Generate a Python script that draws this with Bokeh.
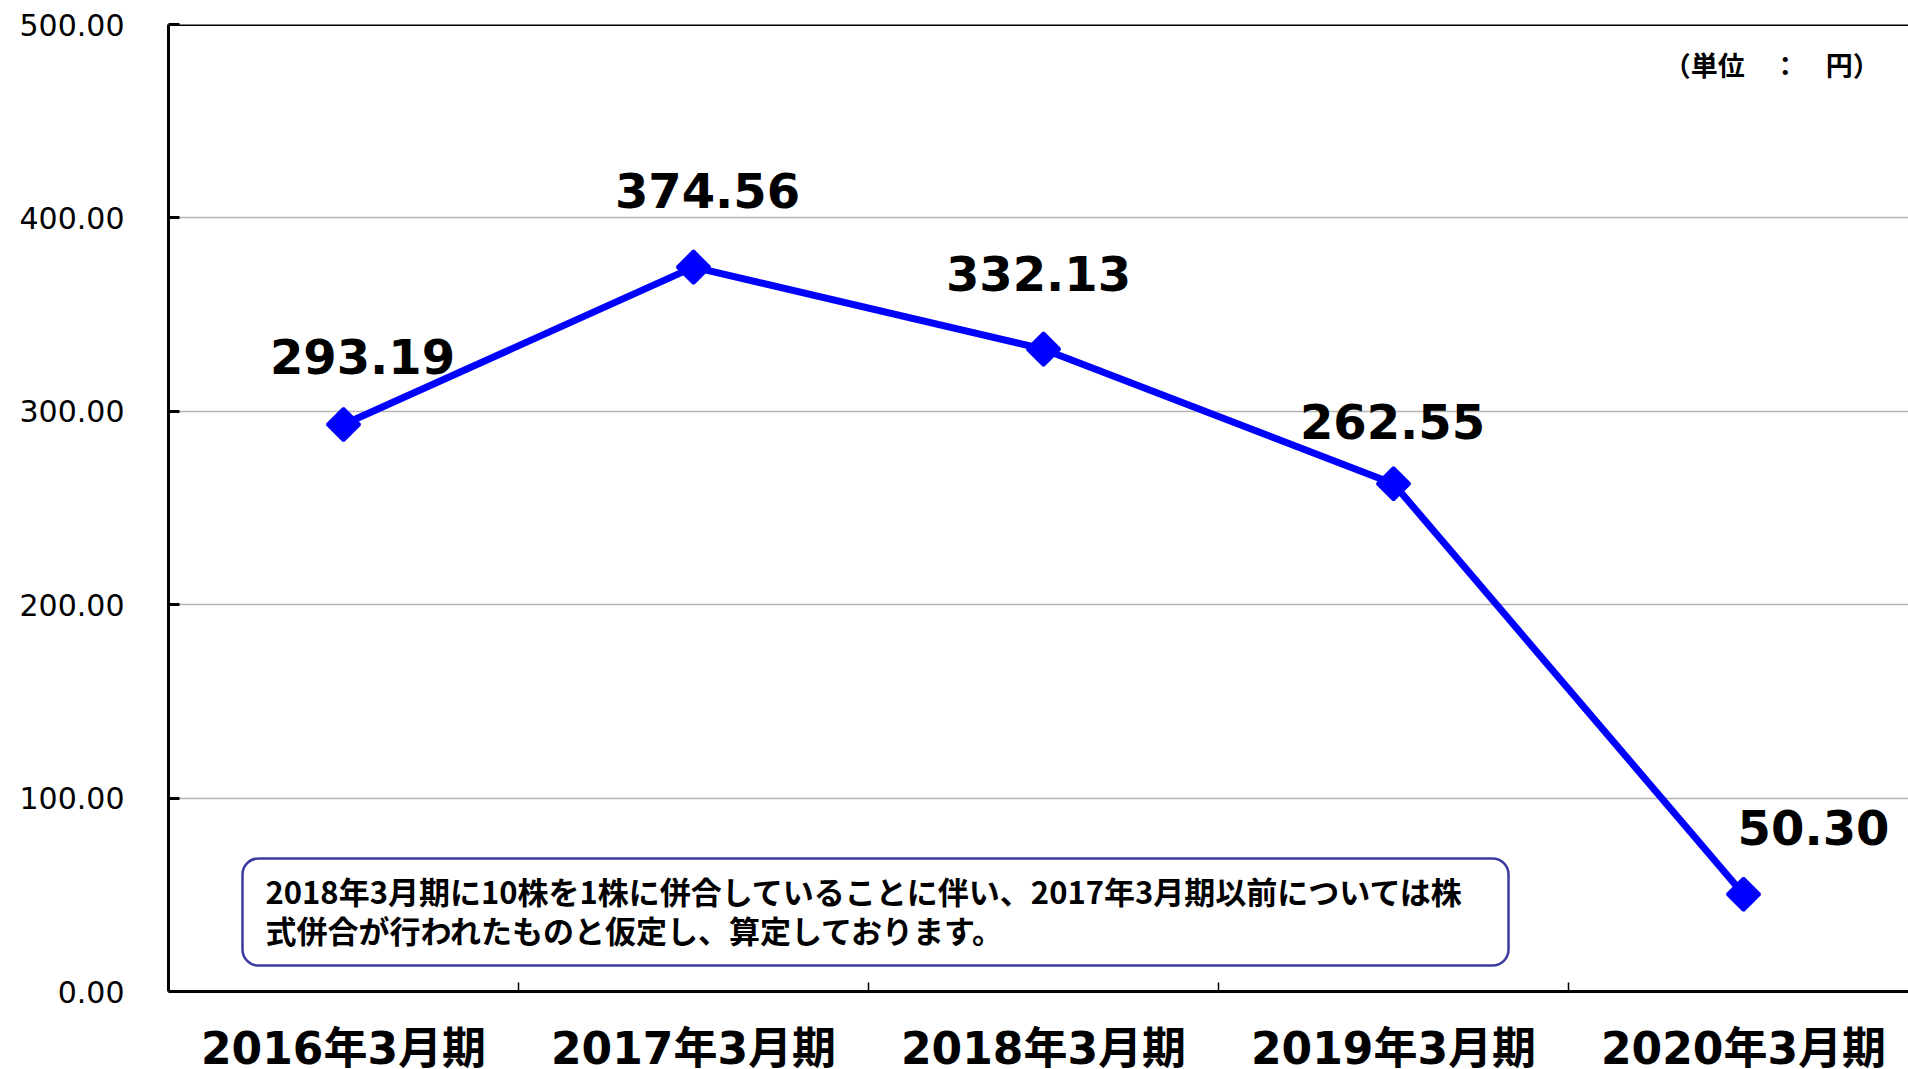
from bokeh.plotting import figure
from bokeh.models import Range1d, FixedTicker, Span, BoxAnnotation, Label, ColumnDataSource, NumeralTickFormatter
from bokeh.core.properties import value
from bokeh.embed import file_html
from bokeh.resources import INLINE

# ---- data ----
categories = ["2016年3月期", "2017年3月期", "2018年3月期", "2019年3月期", "2020年3月期"]
values = [293.19, 374.56, 332.13, 262.55, 50.30]
y_ticks = [0, 100, 200, 300, 400, 500]
note_lines = [
    "2018年3月期に10株を1株に併合していることに伴い、2017年3月期以前については株",
    "式併合が行われたものと仮定し、算定しております。",
]
unit_text = "（単位　：　円）"

# ---- layout (label offsets in screen px) ----
label_dx = [19, 14, -5, -1, 70]
label_dy = [68, 77, 76, 62, 67]

xs = list(range(len(categories)))
src = ColumnDataSource(dict(
    x=xs, y=values,
    txt=[f"{v:.2f}" for v in values],
    dx=label_dx, dy=[-d for d in label_dy],
))

# frame spans the full lower canvas; the value axis runs 0..500 and the
# category axis sits at y = 0 with its labels below it
p = figure(width=1908, height=1069, output_backend="svg", toolbar_location=None,
           x_range=Range1d(-0.5, 4.4714), y_range=Range1d(-40.33, 500),
           min_border_left=168, min_border_top=24, min_border_right=0, min_border_bottom=0)
p.outline_line_color = None
p.background_fill_color = "white"
p.border_fill_color = "white"

# grid
p.xgrid.visible = False
p.ygrid.grid_line_color = "#b4b4b4"
p.ygrid.grid_line_width = 1.5

# y axis
p.yaxis.ticker = FixedTicker(ticks=y_ticks, minor_ticks=[])
p.yaxis.bounds = (y_ticks[0], y_ticks[-1])
p.yaxis.formatter = NumeralTickFormatter(format="0.00")
p.yaxis.major_tick_in = 11
p.yaxis.major_tick_out = 0
p.yaxis.major_tick_line_width = 3
p.yaxis.minor_tick_line_color = None
p.yaxis.axis_line_width = 3
p.yaxis.axis_line_color = "black"
p.yaxis.major_label_standoff = 44
p.yaxis.major_label_text_font = "DejaVu Sans"
p.yaxis.major_label_text_font_size = "30px"
p.yaxis.major_label_text_color = "black"

# x axis: tick marks at category boundaries, names at category centres
p.xaxis.fixed_location = 0
p.xaxis.ticker = FixedTicker(ticks=xs, minor_ticks=[i + 0.5 for i in xs[:-1]])
p.xaxis.major_label_overrides = {i: c for i, c in zip(xs, categories)}
p.xaxis.major_label_standoff = 31
p.xaxis.major_label_text_font = "DejaVu Sans, Noto Sans CJK JP"
p.xaxis.major_label_text_font_style = "bold"
p.xaxis.major_label_text_font_size = "44px"
p.xaxis.major_label_text_color = "black"
p.xaxis.major_tick_in = 0
p.xaxis.major_tick_out = 0
p.xaxis.minor_tick_in = 9
p.xaxis.minor_tick_out = 0
p.xaxis.minor_tick_line_color = "black"
p.xaxis.minor_tick_line_width = 1.5
p.xaxis.axis_line_width = 3
p.xaxis.axis_line_color = "black"

# top frame line
p.add_layout(Span(location=y_ticks[-1], dimension="width", line_color="black", line_width=3))

# series
p.line("x", "y", source=src, line_color="#0000ff", line_width=7)
p.scatter("x", "y", source=src, marker="square", angle=0.7854, size=23,
          fill_color="#0000ff", line_color="#0000ff", line_width=3)
p.text("x", "y", text="txt", source=src, x_offset="dx", y_offset="dy",
       text_align="center", text_baseline="alphabetic",
       text_font=value("DejaVu Sans"), text_font_style="bold",
       text_font_size="48px", text_color="black")

# note box
p.add_layout(BoxAnnotation(left=-0.2886, right=3.3286, top=68.8, bottom=13.4,
                           fill_color="white", fill_alpha=1.0,
                           line_color="#3a3aa0", line_alpha=1.0, line_width=2.5, border_radius=16))
p.add_layout(Label(x=-0.2229, y=52.0, text=note_lines[0], text_align="left", text_baseline="middle",
                   text_font="Noto Sans CJK JP", text_font_style="bold", text_font_size="31px",
                   text_color="black"))
p.add_layout(Label(x=-0.2229, y=32.1, text=note_lines[1], text_align="left", text_baseline="middle",
                   text_font="Noto Sans CJK JP", text_font_style="bold", text_font_size="31px",
                   text_color="black"))

# unit label
p.add_layout(Label(x=4.389, y=479.3, text=unit_text, text_align="right", text_baseline="middle",
                   text_font="Noto Sans CJK JP", text_font_style="bold", text_font_size="27px",
                   text_color="black"))

open("out.html", "w").write(file_html(p, INLINE))
